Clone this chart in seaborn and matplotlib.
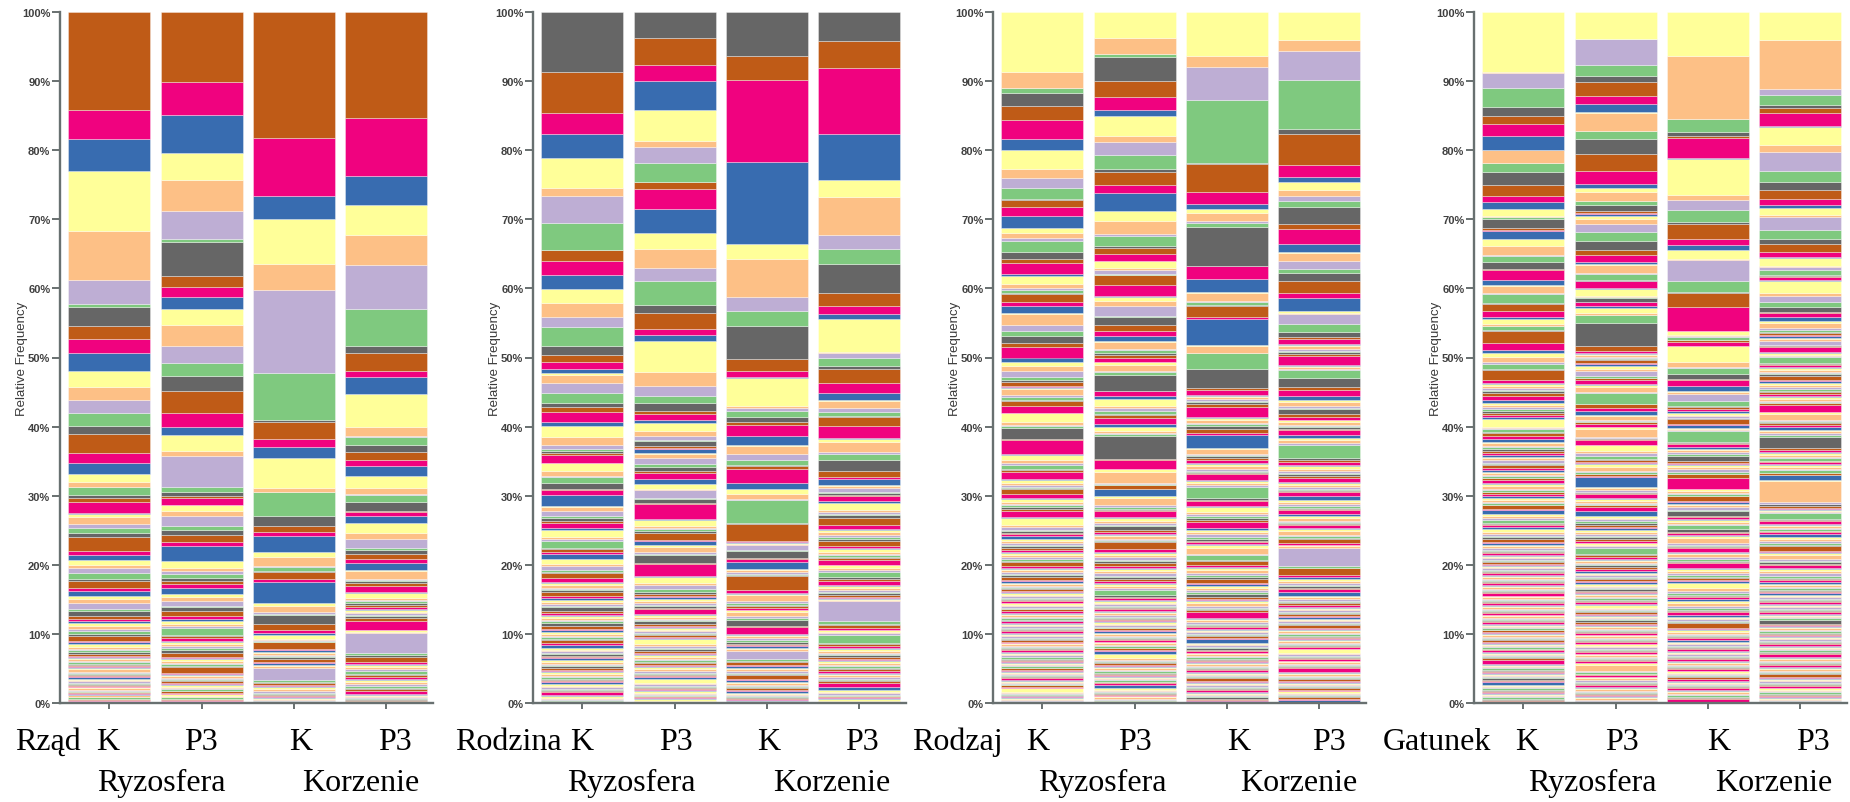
import numpy as np
import pandas as pd
import matplotlib
matplotlib.use("Agg")
import matplotlib.pyplot as plt
import seaborn as sns
from matplotlib.ticker import PercentFormatter

sns.set_theme(style="ticks")
plt.rcParams['font.family'] = ['Liberation Sans', 'DejaVu Sans']

# ---------------- labels ----------------
levels = ["Rząd", "Rodzina", "Rodzaj", "Gatunek"]
samples = ["K", "P3", "K", "P3"]
sites = ["Ryzosfera", "Korzenie"]
ytick_values = [0, 10, 20, 30, 40, 50, 60, 70, 80, 90, 100]

# ---------------- data (relative frequency, %, taxa listed from the top of each bar) ----------------
# Rząd  (rows of 8 taxa)
rzad_ryz_K = [
    14.25, 4.15, 4.6, 8.7, 7.1, 3.4, 0.55, 2.75,
    1.8, 2.1, 2.6, 2.3, 1.9, 1.8, 1.9, 1.2,
    2.7, 1.4, 1.7, 1.1, 0.8, 0.0, 1.1, 0.5,
    0.5, 1.6, 0.2, 0.4, 1.0, 0.6, 0.7, 0.6,
    2.0, 0.6, 0.7, 0.8, 0.3, 0.8, 0.8, 0.3,
    1.0, 0.5, 0.7, 0.5, 0.5, 0.9, 0.3, 0.7,
    0.4, 0.3, 0.3, 0.4, 0.5, 0.3, 0.4, 0.3,
    0.7, 0.2, 0.2, 0.5, 0.3, 0.2, 0.2, 0.3,
    0.3, 0.15, 0.2, 0.15, 0.25, 0.1, 0.3, 0.15,
    0.2, 0.1, 0.15, 0.2, 0.3, 0.15, 0.2, 0.1,
    0.15, 0.2, 0.25, 0.1, 0.2, 0.3, 0.1, 0.15,
    0.2, 0.1, 0.1, 0.15, 0.2, 0.1, 0.15, 0.1,
    0.1, 0.15, 0.1, 0.1, 0.2, 0.1, 0.15, 0.1,
    0.1, 0.1, 0.05, 0.1, 0.1, 0.05, 0.05,
]
rzad_ryz_P3 = [
    10.1, 4.8, 5.5, 3.85, 4.5, 4.1, 0.45, 4.9,
    1.65, 1.35, 1.8, 2.3, 3.0, 2.5, 1.85, 2.15,
    3.2, 2.0, 1.2, 2.3, 0.7, 4.6, 0.7, 0.5,
    0.3, 1.1, 0.0, 0.8, 0.8, 1.35, 0.55, 0.8,
    1.0, 0.55, 2.25, 0.9, 0.5, 0.5, 0.45, 0.45,
    0.5, 0.5, 0.95, 0.45, 0.5, 0.7, 0.25, 0.5,
    0.75, 0.5, 0.2, 0.5, 0.3, 0.2, 1.0, 0.2,
    0.3, 0.4, 0.2, 0.3, 0.2, 0.3, 0.4, 0.3,
    0.6, 0.2, 0.2, 0.2, 0.3, 0.2, 0.2, 0.2,
    0.8, 0.15, 0.2, 0.1, 0.3, 0.15, 0.2, 0.1,
    0.3, 0.2, 0.15, 0.2, 0.25, 0.1, 0.2, 0.1,
    0.2, 0.15, 0.1, 0.2, 0.15, 0.1, 0.15, 0.1,
    0.1, 0.1, 0.05, 0.1, 0.1, 0.05, 0.05,
]
rzad_kor_K = [
    18.25, 8.35, 3.4, 6.5, 3.8, 11.9, 6.9, 0.3,
    2.4, 1.1, 1.7, 4.35, 0.55, 0.0, 3.5, 1.45,
    0.75, 0.6, 2.3, 0.7, 1.35, 0.1, 0.65, 0.2,
    1.0, 0.45, 3.0, 0.4, 0.95, 0.2, 0.2, 1.2,
    0.9, 0.5, 0.2, 0.6, 0.2, 0.1, 0.1, 0.1,
    1.0, 0.2, 0.2, 0.2, 0.2, 0.2, 0.2, 0.3,
    0.3, 0.2, 0.3, 0.2, 0.3, 1.7, 0.2, 0.2,
    0.3, 0.15, 0.2, 0.2, 0.25, 0.3, 0.2, 0.15,
    0.15, 0.1, 0.15, 0.1, 0.2, 0.15, 0.15, 0.15,
]
rzad_kor_P3 = [
    15.4, 8.4, 4.1, 4.4, 4.3, 6.4, 5.4, 0.9,
    2.7, 0.8, 2.5, 4.7, 1.3, 0.2, 1.1, 1.1,
    1.2, 0.75, 1.45, 1.85, 0.8, 0.2, 1.0, 1.25,
    0.2, 0.6, 1.0, 1.45, 0.85, 1.3, 0.2, 0.7,
    0.6, 0.7, 0.9, 0.2, 1.1, 0.2, 0.2, 0.2,
    0.4, 0.9, 0.2, 0.7, 0.3, 0.2, 0.3, 0.2,
    0.3, 0.3, 0.2, 0.2, 0.2, 0.2, 0.2, 0.3,
    0.4, 1.4, 0.0, 0.2, 0.2, 2.9, 0.3, 0.2,
    0.8, 0.2, 0.2, 0.3, 0.3, 0.2, 0.5, 0.2,
    0.3, 0.2, 0.2, 0.3, 0.3, 0.2, 0.3, 0.2,
    0.2, 0.5, 0.1, 0.2, 0.2, 0.1, 0.15, 0.1,
    0.1, 0.1, 0.05, 0.1, 0.1,
]

# Rodzina
rodz_ryz_K = [
    8.7, 5.9, 3.1, 3.5, 4.2, 1.2, 4.0, 3.8,
    0.0, 1.7, 2.0, 2.0, 2.0, 2.1, 1.45, 2.75,
    1.25, 1.05, 0.9, 0.6, 0.4, 1.1, 1.4, 1.5,
    0.6, 0.7, 1.5, 0.55, 1.6, 1.05, 0.7, 0.3,
    0.2, 0.3, 1.1, 0.1, 1.1, 0.7, 0.2, 0.8,
    0.9, 0.2, 0.7, 1.6, 0.2, 0.5, 0.8, 0.2,
    0.5, 0.2, 0.8, 0.2, 1.1, 0.3, 0.3, 0.9,
    0.2, 0.4, 0.35, 0.75, 0.7, 0.3, 0.5, 0.3,
    0.2, 0.7, 0.6, 0.1, 0.3, 0.4, 0.2, 0.2,
    0.2, 0.6, 0.3, 0.3, 0.3, 0.3, 0.2, 0.2,
    0.6, 0.3, 0.2, 0.2, 0.3, 0.3, 0.2, 0.2,
    0.5, 0.35, 0.25, 0.2, 0.3, 0.3, 0.2, 0.2,
    0.2, 0.4, 0.3, 0.5, 0.2, 0.2, 0.2, 0.2,
    0.3, 0.2, 0.15, 0.2, 0.3, 0.25, 0.2, 0.2,
    0.2, 0.3, 0.2, 0.15, 0.25, 0.3, 0.2, 0.2,
    0.15, 0.2, 0.15, 0.2, 0.3, 0.2, 0.25, 0.15,
    0.1, 0.2, 0.5, 0.15, 0.2, 0.2, 0.15, 0.1,
    0.1, 0.1, 0.1,
]
rodz_ryz_P3 = [
    3.8, 3.9, 2.3, 4.15, 4.45, 0.9, 2.4, 2.65,
    0.0, 1.05, 2.9, 3.5, 2.3, 2.7, 2.0, 3.4,
    1.1, 2.4, 0.9, 0.8, 4.5, 2.0, 1.4, 1.1,
    1.2, 0.4, 0.8, 0.5, 1.1, 0.7, 0.7, 0.1,
    0.65, 0.35, 0.2, 0.5, 0.1, 0.7, 0.8, 0.5,
    0.5, 0.3, 0.9, 0.7, 0.7, 0.2, 1.1, 0.2,
    0.6, 0.1, 2.2, 0.1, 0.85, 0.3, 0.2, 0.2,
    0.35, 1.0, 0.2, 0.55, 0.3, 0.65, 0.3, 0.2,
    1.1, 0.2, 1.7, 0.1, 0.9, 0.3, 0.6, 0.5,
    0.2, 0.3, 0.2, 0.2, 0.4, 0.3, 0.2, 0.2,
    0.2, 0.2, 0.7, 0.1, 0.3, 0.3, 0.2, 0.2,
    0.3, 0.3, 0.2, 0.1, 0.3, 0.2, 0.2, 0.2,
    0.2, 0.2, 0.2, 0.2, 0.7, 0.3, 0.2, 0.2,
    0.3, 0.2, 0.15, 0.2, 0.3, 0.25, 0.2, 0.2,
    0.2, 0.3, 0.2, 0.15, 0.25, 0.3, 0.2, 0.2,
    0.15, 0.2, 0.15, 0.2, 0.6, 0.2, 0.25, 0.15,
    0.1, 0.2, 0.15, 0.15, 0.2, 0.2, 0.15, 0.1,
    0.1, 0.1, 0.1, 0.1, 0.4, 0.1, 0.15,
]
rodz_kor_K = [
    6.4, 3.5, 11.75, 11.95, 2.15, 5.55, 1.95, 2.25,
    4.75, 1.65, 0.85, 0.25, 3.95, 0.3, 0.55, 0.75,
    0.85, 0.3, 1.6, 1.35, 0.1, 1.25, 0.9, 0.7,
    0.1, 0.4, 2.1, 0.9, 0.7, 0.7, 0.1, 3.35,
    0.1, 2.55, 0.1, 0.1, 0.2, 0.2, 0.7, 0.1,
    1.0, 0.1, 0.5, 1.0, 0.2, 0.3, 0.3, 0.1,
    0.1, 2.0, 0.5, 0.1, 0.2, 0.8, 0.3, 0.3,
    0.2, 0.3, 0.2, 0.1, 0.3, 0.5, 0.3, 0.3,
    0.9, 0.1, 1.0, 0.1, 0.2, 0.3, 0.3, 0.3,
    0.2, 0.2, 0.2, 0.2, 0.2, 0.3, 1.2, 0.2,
    0.2, 0.4, 0.15, 0.3, 0.2, 0.25, 0.2, 0.2,
    0.2, 0.5, 0.2, 0.3, 0.15, 0.2, 0.2, 0.15,
    0.15, 0.2, 0.15, 0.3, 0.15, 0.2, 0.2, 0.15,
    0.1, 0.15, 0.1, 0.2, 0.1, 0.15,
]
rodz_kor_P3 = [
    4.25, 3.85, 9.6, 6.55, 2.55, 5.5, 2.0, 2.1,
    4.3, 1.8, 1.2, 0.7, 4.8, 0.1, 0.8, 1.1,
    0.5, 2.0, 1.4, 1.0, 0.2, 1.0, 0.6, 0.6,
    0.1, 1.35, 1.75, 0.1, 0.4, 1.5, 0.2, 1.0,
    1.5, 0.95, 0.2, 0.9, 0.2, 0.3, 0.55, 0.1,
    0.3, 0.2, 0.6, 0.4, 1.0, 0.3, 0.2, 0.2,
    0.4, 1.0, 0.6, 0.2, 0.3, 0.4, 0.3, 0.3,
    0.3, 0.7, 0.2, 0.2, 0.4, 0.3, 0.2, 0.2,
    0.2, 0.3, 0.7, 0.1, 0.4, 0.3, 0.3, 0.7,
    0.2, 0.3, 0.6, 0.1, 0.3, 0.3, 0.3, 0.2,
    0.3, 0.2, 0.2, 0.1, 0.2, 0.2, 2.9, 0.3,
    0.2, 0.5, 0.2, 0.1, 0.2, 0.2, 0.2, 1.2,
    0.2, 0.3, 0.2, 0.2, 0.3, 0.2, 0.2, 0.2,
    0.3, 0.2, 0.15, 0.2, 0.3, 0.25, 0.2, 0.2,
    0.2, 0.3, 0.2, 0.15, 0.25, 0.3, 0.2, 0.2,
    0.15, 0.2, 0.6, 0.5, 0.2, 0.2, 0.25, 0.15,
    0.1, 0.15, 0.1, 0.15, 0.2, 0.15, 0.1, 0.1,
]

# Rodzaj
rodzaj_ryz_K = [
    8.7, 2.3, 0.0, 0.7, 1.9, 2.1, 2.75, 1.5,
    2.75, 1.3, 1.4, 1.6, 0.2, 1.05, 1.25, 1.7,
    0.8, 0.75, 0.45, 1.6, 1.0, 0.5, 1.6, 0.25,
    1.25, 0.6, 0.2, 0.5, 0.1, 1.2, 0.6, 0.9,
    0.2, 1.6, 0.8, 0.8, 1.0, 0.65, 1.45, 0.7,
    0.6, 0.6, 0.95, 0.35, 0.3, 0.6, 0.2, 0.1,
    0.2, 0.8, 0.3, 0.4, 0.2, 0.65, 1.05, 0.1,
    1.3, 0.3, 0.2, 0.35, 1.55, 0.2, 2.0, 0.1,
    0.8, 0.4, 0.3, 0.6, 0.1, 0.2, 1.1, 0.2,
    0.4, 0.3, 0.2, 0.2, 0.2, 0.7, 0.6, 0.1,
    0.4, 0.3, 0.2, 0.3, 0.2, 0.3, 0.9, 0.1,
    1.1, 0.3, 0.3, 0.2, 0.3, 0.2, 0.3, 0.4,
    0.3, 0.3, 0.2, 0.2, 0.2, 0.3, 0.3, 0.2,
    0.3, 0.3, 0.3, 0.2, 0.2, 0.6, 0.2, 0.2,
    0.2, 0.2, 0.3, 0.2, 0.2, 0.5, 0.2, 0.2,
    0.2, 0.25, 0.15, 0.2, 0.1, 0.3, 0.2, 0.15,
    0.15, 0.2, 0.3, 0.1, 0.2, 0.15, 0.25, 0.1,
    0.25, 0.15, 0.2, 0.15, 0.1, 0.2, 0.3, 0.15,
    0.2, 0.3, 0.15, 0.2, 0.15, 0.1, 0.2, 0.1,
    0.15, 0.2, 0.25, 0.15, 0.2, 0.15, 0.2, 0.15,
    0.2, 0.15, 0.3, 0.2, 0.1, 0.2, 0.15, 0.1,
    0.15, 0.2, 0.2, 0.15, 0.15, 0.2, 0.25, 0.1,
    0.1, 0.25, 0.2, 0.3, 0.15, 0.15, 0.2, 0.1,
    0.2, 0.15, 0.15, 0.2, 0.1, 0.2, 0.15, 0.1,
    0.15, 0.2, 0.2, 0.15, 0.15, 0.15, 0.2, 0.1,
    0.2, 0.15, 0.15, 0.1, 0.1, 0.2, 0.15, 0.1,
    0.5, 0.15, 0.15, 0.1, 0.15, 0.1, 0.15, 0.1,
    0.1, 0.15, 0.1, 0.1, 0.1, 0.15,
]
rodzaj_ryz_P3 = [
    3.8, 2.25, 0.0, 0.45, 3.55, 2.25, 1.85, 0.95,
    2.9, 0.85, 1.85, 2.0, 0.4, 1.9, 1.2, 2.55,
    1.45, 1.9, 0.35, 1.35, 0.4, 0.8, 1.0, 0.1,
    0.9, 0.3, 0.6, 0.1, 0.1, 1.4, 1.6, 0.1,
    0.6, 0.7, 1.5, 0.1, 1.2, 0.8, 0.8, 0.7,
    0.2, 0.9, 0.2, 0.5, 0.2, 0.4, 0.6, 0.1,
    0.4, 0.8, 0.2, 0.5, 2.2, 0.1, 0.6, 0.5,
    1.0, 0.3, 0.5, 0.4, 0.1, 0.5, 0.8, 0.5,
    0.5, 0.3, 0.2, 0.2, 3.4, 0.2, 1.2, 0.1,
    0.3, 1.6, 0.2, 0.1, 0.1, 0.5, 0.1, 1.0,
    0.2, 1.0, 0.3, 0.3, 0.1, 0.2, 0.9, 0.1,
    0.4, 0.3, 0.3, 0.2, 0.5, 0.3, 0.3, 0.2,
    0.2, 0.3, 0.2, 0.2, 0.1, 1.0, 0.4, 0.2,
    0.3, 0.3, 0.4, 0.2, 0.3, 0.4, 0.2, 0.2,
    0.3, 0.3, 0.4, 0.2, 0.2, 0.3, 0.3, 0.2,
    0.2, 0.3, 0.3, 0.8, 0.2, 0.2, 0.3, 0.2,
    0.2, 0.15, 0.25, 0.2, 0.1, 0.2, 0.3, 0.15,
    0.15, 0.2, 0.3, 0.15, 0.2, 0.15, 0.2, 0.1,
    0.25, 0.2, 0.2, 0.15, 0.1, 0.2, 0.25, 0.15,
    0.2, 0.25, 0.15, 0.2, 0.15, 0.15, 0.2, 0.1,
    0.15, 0.2, 0.25, 0.2, 0.1, 0.2, 0.15, 0.5,
    0.6, 0.2, 0.2, 0.15, 0.15, 0.2, 0.2, 0.1,
    0.2, 0.25, 0.2, 0.2, 0.15, 0.15, 0.2, 0.1,
    0.15, 0.2, 0.15, 0.2, 0.1, 0.15, 0.2, 0.5,
    0.2, 0.2, 0.15, 0.15, 0.1, 0.15, 0.15, 0.1,
    0.1, 0.2, 0.15, 0.15, 0.1, 0.15, 0.1,
]
rodzaj_kor_K = [
    6.4, 1.6, 4.8, 9.1, 0.1, 4.1, 1.7, 0.7,
    0.6, 1.2, 0.2, 0.65, 5.55, 0.1, 1.85, 1.85,
    0.1, 1.2, 0.2, 0.4, 0.2, 1.6, 0.2, 3.8,
    0.2, 0.9, 0.1, 2.25, 2.8, 0.2, 0.75, 0.1,
    0.2, 0.3, 0.3, 0.2, 0.3, 0.3, 1.55, 0.1,
    0.3, 0.4, 0.2, 0.2, 0.5, 0.6, 0.3, 1.85,
    0.2, 0.6, 0.2, 0.2, 0.3, 0.3, 0.4, 0.1,
    0.3, 0.5, 0.2, 0.2, 0.1, 0.2, 0.9, 0.1,
    0.3, 0.3, 0.2, 1.7, 0.2, 0.2, 0.7, 0.1,
    0.8, 0.3, 0.3, 0.2, 0.3, 0.3, 0.9, 0.2,
    0.3, 0.4, 0.4, 0.2, 0.3, 0.2, 0.3, 0.2,
    0.3, 0.9, 0.2, 0.7, 0.2, 0.6, 0.2, 0.2,
    0.3, 0.4, 0.3, 0.3, 0.2, 0.6, 0.2, 0.2,
    0.3, 0.3, 0.4, 0.2, 0.4, 0.3, 0.2, 0.2,
    0.3, 0.3, 0.3, 0.2, 0.2, 0.2, 0.9, 0.1,
    0.2, 0.25, 0.3, 0.15, 0.2, 0.15, 0.2, 0.15,
    0.15, 0.2, 0.25, 0.2, 0.15, 0.2, 0.15, 0.6,
    0.2, 0.15, 0.2, 0.15, 0.3, 0.2, 0.2, 0.1,
    0.15, 0.25, 0.2, 0.2, 0.15, 0.15, 0.2, 0.1,
    0.2, 0.2, 0.15, 0.2, 0.1, 0.2, 0.25, 0.1,
    0.15, 0.2, 0.2, 0.15, 0.15, 0.4, 0.15, 0.1,
    0.2, 0.15, 0.2, 0.2, 0.15, 0.15, 0.2, 0.15,
    0.15, 0.2, 0.2, 0.15, 0.2, 0.15, 0.2, 0.25,
]
rodzaj_kor_P3 = [
    4.1, 1.55, 4.25, 7.0, 0.75, 4.55, 1.7, 0.65,
    1.15, 1.0, 0.6, 0.95, 2.45, 0.7, 2.2, 1.2,
    0.1, 1.1, 1.2, 0.6, 1.2, 1.7, 0.75, 1.85,
    0.2, 0.2, 1.5, 1.1, 0.8, 0.2, 0.8, 0.1,
    0.2, 0.3, 0.3, 0.2, 0.3, 0.3, 1.3, 0.1,
    0.2, 0.2, 0.2, 1.2, 1.2, 0.5, 0.9, 0.6,
    0.3, 0.5, 0.3, 0.2, 0.7, 0.4, 0.4, 0.1,
    0.3, 0.3, 0.2, 0.2, 0.2, 0.2, 0.7, 0.5,
    0.3, 0.4, 0.2, 2.0, 0.3, 0.2, 0.5, 0.1,
    0.4, 0.3, 0.3, 0.2, 0.2, 0.4, 0.5, 0.1,
    0.3, 0.4, 0.2, 0.2, 0.1, 0.2, 0.6, 0.5,
    0.3, 0.3, 0.3, 0.3, 0.1, 0.2, 0.6, 0.2,
    0.3, 0.4, 0.2, 0.2, 0.1, 0.2, 0.4, 0.1,
    0.3, 0.6, 0.2, 0.2, 0.1, 0.7, 0.2, 0.1,
    0.1, 0.2, 2.7, 0.2, 0.1, 1.0, 0.3, 0.2,
    0.3, 0.3, 0.3, 0.2, 0.2, 0.2, 0.5, 0.5,
    0.2, 0.25, 0.3, 0.15, 0.2, 0.15, 0.3, 0.15,
    0.15, 0.2, 0.25, 0.2, 0.15, 0.2, 0.2, 0.3,
    0.2, 0.15, 0.2, 0.15, 0.2, 0.4, 0.2, 0.1,
    0.15, 0.25, 0.2, 0.2, 0.15, 0.15, 0.2, 0.1,
    0.2, 0.2, 0.15, 0.25, 0.1, 0.2, 0.2, 0.1,
    0.5, 0.2, 0.2, 0.15, 0.15, 0.2, 0.2, 0.1,
    0.15, 0.2, 0.2, 0.2, 0.1, 0.15, 0.6, 0.1,
    0.2, 0.2, 0.15, 0.2, 0.15, 0.2, 0.2, 0.1,
    0.15, 0.2, 0.2, 0.15, 0.1, 0.2, 0.15, 0.1,
    0.2, 0.2, 0.15, 0.2, 0.15, 0.2, 0.2, 0.2,
    0.1, 0.1,
]

# Gatunek
gat_ryz_K = [
    8.7, 0.15, 2.15, 2.75, 1.25, 1.2, 1.8, 1.9,
    0.1, 1.8, 0.1, 1.3, 1.9, 1.6, 0.75, 1.05,
    1.0, 0.1, 0.1, 0.2, 1.4, 0.3, 0.1, 1.15,
    0.95, 1.4, 0.1, 0.9, 1.0, 0.2, 1.35, 0.75,
    0.2, 1.0, 0.1, 1.3, 0.1, 1.0, 1.0, 0.3,
    0.7, 0.2, 0.1, 0.5, 0.2, 1.7, 1.0, 0.5,
    0.5, 0.8, 0.2, 0.8, 0.1, 1.4, 0.5, 0.2,
    0.2, 0.3, 0.3, 0.2, 0.3, 0.4, 0.5, 0.5,
    0.3, 0.3, 0.3, 0.3, 0.2, 0.3, 0.3, 0.3,
    1.1, 0.2, 0.2, 0.4, 0.1, 0.5, 0.4, 0.4,
    0.2, 0.4, 0.2, 0.3, 0.2, 0.3, 0.3, 0.3,
    0.2, 0.3, 0.3, 0.2, 0.2, 0.4, 0.3, 0.2,
    0.2, 0.3, 0.2, 0.2, 0.1, 0.2, 0.5, 0.1,
    0.3, 0.4, 0.2, 0.2, 0.1, 0.2, 0.4, 0.2,
    0.3, 0.3, 0.2, 0.2, 0.1, 0.5, 0.2, 0.5,
    0.3, 0.3, 0.3, 0.4, 0.2, 0.2, 0.3, 0.2,
    0.5, 0.3, 0.2, 0.2, 0.2, 0.5, 0.2, 0.2,
    0.2, 0.25, 0.3, 0.15, 0.2, 0.15, 0.2, 0.15,
    0.15, 0.2, 0.25, 0.2, 0.15, 0.2, 0.2, 0.1,
    0.2, 0.15, 0.2, 0.15, 0.2, 0.15, 0.3, 0.1,
    0.15, 0.25, 0.2, 0.2, 0.15, 0.15, 0.25, 0.1,
    0.2, 0.2, 0.15, 0.25, 0.1, 0.2, 0.3, 0.1,
    0.15, 0.2, 0.2, 0.15, 0.15, 0.2, 0.2, 0.1,
    0.2, 0.25, 0.2, 0.2, 0.1, 0.15, 0.2, 0.1,
    0.15, 0.2, 0.2, 0.15, 0.15, 0.15, 0.25, 0.1,
    0.2, 0.15, 0.2, 0.2, 0.1, 0.2, 0.2, 0.1,
    0.15, 0.25, 0.25, 0.15, 0.15, 0.15, 0.2, 0.1,
    0.2, 0.2, 0.15, 0.2, 0.1, 0.15, 0.2, 0.1,
    0.15, 0.2, 0.2, 0.15, 0.15, 0.2, 0.6, 0.1,
    0.2, 0.2, 0.15, 0.2, 0.1, 0.15, 0.2, 0.1,
    0.15, 0.2, 0.2, 0.15, 0.15, 0.15, 0.2, 0.4,
    0.2, 0.15, 0.2, 0.2, 0.1, 0.2, 0.15, 0.1,
    0.15, 0.2, 0.2, 0.15, 0.15, 0.2, 0.15, 0.15,
]
gat_ryz_P3 = [
    3.85, 0.1, 3.7, 1.65, 0.85, 1.95, 1.2, 1.1,
    0.2, 2.55, 0.1, 1.1, 2.2, 2.4, 1.95, 0.55,
    0.65, 1.2, 0.1, 0.5, 0.85, 0.35, 0.1, 0.3,
    0.5, 0.7, 1.1, 1.3, 1.3, 0.8, 1.0, 0.2,
    0.2, 1.2, 0.1, 0.9, 0.1, 0.1, 0.9, 0.2,
    1.0, 0.1, 0.1, 0.1, 0.5, 0.1, 0.6, 0.3,
    0.6, 0.3, 0.1, 1.1, 3.3, 0.7, 0.4, 0.1,
    0.2, 0.3, 0.1, 0.1, 0.1, 0.5, 0.2, 0.2,
    0.4, 0.4, 0.7, 0.2, 0.1, 0.2, 0.7, 0.1,
    0.2, 0.8, 0.2, 1.5, 0.1, 0.5, 0.4, 0.6,
    0.2, 0.5, 0.2, 0.1, 0.1, 0.2, 0.4, 0.1,
    0.2, 1.2, 0.1, 0.1, 0.1, 0.2, 0.6, 0.1,
    0.8, 0.3, 0.5, 0.4, 0.1, 0.3, 0.2, 0.1,
    0.4, 0.6, 0.2, 0.2, 0.1, 0.2, 0.2, 1.4,
    0.2, 0.3, 0.2, 0.1, 0.1, 0.2, 0.6, 0.1,
    0.3, 0.2, 0.2, 0.1, 0.1, 0.2, 0.6, 0.7,
    0.3, 0.2, 0.3, 0.3, 0.2, 0.3, 0.2, 0.2,
    0.3, 0.4, 0.2, 0.2, 0.3, 0.3, 0.2, 0.1,
    0.2, 0.2, 0.2, 0.9, 0.2, 0.3, 0.2, 0.2,
    0.2, 0.25, 0.2, 0.15, 0.2, 0.35, 0.2, 0.3,
    0.15, 0.2, 0.25, 0.2, 0.15, 0.2, 0.2, 0.3,
    0.2, 0.2, 0.2, 0.15, 0.2, 0.15, 0.25, 0.1,
    0.15, 0.25, 0.2, 0.2, 0.15, 0.2, 0.3, 0.1,
    0.4, 0.2, 0.15, 0.2, 0.1, 0.2, 0.2, 0.1,
    0.15, 0.2, 0.2, 0.15, 0.3, 0.15, 0.2, 0.1,
    0.2, 0.25, 0.15, 0.2, 0.1, 0.2, 0.2, 0.1,
    0.15, 0.2, 0.2, 0.15, 0.15, 0.15, 0.2, 0.1,
    0.2, 0.25, 0.2, 0.2, 0.1, 0.2, 0.2, 0.1,
    0.15, 0.2, 0.15, 0.15, 0.15, 0.15, 0.25, 0.1,
    0.2, 0.9, 0.2, 0.2, 0.1, 0.15, 0.2, 0.1,
    0.15, 0.2, 0.25, 0.15, 0.15, 0.2, 0.3, 0.1,
    0.2, 0.2, 0.2, 0.2, 0.1, 0.15, 0.2, 0.1,
    0.15, 0.2, 0.15, 0.1, 0.1, 0.15,
]
gat_kor_K = [
    6.4, 9.05, 0.0, 1.95, 0.5, 0.35, 2.9, 0.1,
    5.3, 0.65, 1.4, 1.75, 0.35, 2.15, 0.85, 0.7,
    1.35, 0.1, 3.05, 1.6, 0.1, 2.15, 3.35, 0.1,
    0.6, 0.1, 0.1, 0.4, 0.1, 0.2, 0.6, 0.1,
    2.3, 0.7, 0.1, 0.9, 0.7, 0.2, 0.8, 0.7,
    0.2, 0.3, 1.0, 0.7, 0.1, 0.3, 0.3, 0.4,
    0.2, 0.2, 0.2, 0.1, 0.1, 0.7, 0.1, 0.5,
    0.2, 0.1, 0.1, 1.6, 0.2, 0.1, 0.5, 0.2,
    0.2, 0.3, 0.3, 0.3, 0.7, 0.2, 0.2, 0.2,
    0.3, 0.3, 0.3, 0.3, 0.1, 0.6, 1.5, 0.1,
    0.2, 0.3, 0.2, 0.2, 0.1, 0.6, 0.2, 0.3,
    0.2, 0.3, 0.3, 0.2, 0.7, 0.2, 0.2, 0.2,
    0.3, 0.3, 0.2, 0.5, 0.4, 0.2, 0.3, 0.2,
    0.2, 0.8, 0.2, 0.2, 0.1, 0.2, 0.5, 0.2,
    0.2, 0.3, 0.3, 0.3, 0.2, 0.2, 0.6, 0.2,
    0.3, 0.3, 0.3, 0.2, 0.2, 0.3, 0.2, 0.2,
    0.8, 0.4, 0.3, 0.2, 0.2, 0.2, 0.3, 0.3,
    0.2, 0.5, 0.3, 0.2, 0.2, 0.2, 0.3, 0.3,
    0.2, 0.2, 0.2, 0.2, 0.1, 0.7, 0.2, 0.2,
    0.2, 0.25, 0.2, 0.15, 0.2, 0.15, 0.3, 0.15,
    0.15, 0.2, 0.25, 0.2, 0.15, 0.2, 0.2, 0.1,
    0.2, 0.2, 0.2, 0.15, 0.15, 0.2, 0.3, 0.1,
    0.15, 0.25, 0.2, 0.2, 0.1, 0.15, 0.2, 0.1,
    0.2, 0.2, 0.15, 0.2, 0.15, 0.2, 0.3, 0.1,
    0.15, 0.2, 0.2, 0.15, 0.1, 0.2, 0.25, 0.1,
    0.2, 0.25, 0.2, 0.2, 0.15, 0.2, 0.35, 0.2,
]
gat_kor_P3 = [
    4.1, 7.0, 0.9, 1.45, 0.45, 0.75, 1.85, 0.1,
    2.7, 1.0, 2.65, 1.65, 1.1, 1.35, 0.85, 0.5,
    1.0, 0.2, 1.9, 1.4, 0.7, 1.1, 0.8, 0.1,
    1.1, 0.2, 0.5, 0.7, 0.1, 0.2, 0.4, 0.1,
    1.75, 0.5, 0.8, 0.7, 0.7, 0.2, 0.6, 0.5,
    0.4, 0.7, 0.2, 0.3, 0.2, 0.3, 0.2, 0.2,
    0.2, 0.3, 0.5, 0.1, 0.1, 0.1, 0.8, 0.1,
    0.3, 0.2, 0.1, 0.9, 0.1, 0.1, 0.3, 0.1,
    0.3, 0.3, 0.2, 0.2, 0.2, 0.6, 0.2, 0.2,
    0.3, 0.3, 0.3, 0.3, 0.2, 0.3, 0.2, 0.2,
    0.2, 0.3, 0.2, 0.1, 0.1, 0.2, 1.0, 0.1,
    0.2, 0.9, 0.2, 0.1, 0.1, 0.3, 0.3, 0.4,
    0.2, 0.3, 0.3, 0.2, 1.7, 0.3, 0.2, 0.2,
    0.2, 0.3, 0.2, 0.4, 0.1, 0.1, 0.3, 0.1,
    0.3, 0.3, 0.2, 0.3, 0.1, 0.2, 0.1, 0.7,
    0.1, 3.1, 0.2, 0.1, 0.2, 0.4, 0.1, 0.1,
    0.1, 0.2, 0.1, 0.9, 0.1, 0.2, 0.5, 0.1,
    0.2, 0.2, 0.2, 0.2, 0.1, 0.1, 0.3, 0.4,
    0.3, 0.3, 0.3, 0.3, 0.2, 0.6, 0.2, 0.2,
    0.3, 0.5, 0.3, 0.2, 0.2, 0.2, 0.4, 0.2,
    0.2, 0.3, 0.4, 0.3, 0.2, 0.2, 0.3, 0.2,
    0.2, 0.25, 0.2, 0.2, 0.15, 0.2, 0.2, 0.15,
    0.15, 0.2, 0.25, 0.2, 0.2, 0.15, 0.2, 0.1,
    0.2, 0.2, 0.2, 0.15, 0.2, 0.2, 0.2, 0.1,
    0.15, 0.2, 0.2, 0.2, 0.6, 0.15, 0.2, 0.1,
    0.2, 0.25, 0.2, 0.2, 0.1, 0.2, 0.2, 0.1,
    0.15, 0.2, 0.2, 0.2, 0.15, 0.15, 0.25, 0.1,
    0.2, 0.2, 0.15, 0.2, 0.1, 0.2, 0.5, 0.1,
    0.15, 0.2, 0.2, 0.15, 0.1, 0.15, 0.4, 0.1,
    0.2, 0.2, 0.2, 0.15, 0.1, 0.4, 0.2, 0.1,
    0.15, 0.2, 0.2, 0.25, 0.15, 0.15, 0.2, 0.1,
    0.2, 0.2, 0.15, 0.2, 0.15, 0.2, 0.2, 0.1,
    0.15, 0.15, 0.15, 0.1, 0.15,
]

panel_data = [
    [rzad_ryz_K, rzad_ryz_P3, rzad_kor_K, rzad_kor_P3],
    [rodz_ryz_K, rodz_ryz_P3, rodz_kor_K, rodz_kor_P3],
    [rodzaj_ryz_K, rodzaj_ryz_P3, rodzaj_kor_K, rodzaj_kor_P3],
    [gat_ryz_K, gat_ryz_P3, gat_kor_K, gat_kor_P3],
]
# palette position (Accent) of the top-most taxon in each panel
palette_start = [6, 7, 3, 3]

# ---------------- layout (pixels of the 1850x803 canvas) ----------------
W, H = 1850, 803
axes_left_px = [60, 533, 993, 1474]
axes_w_px = 373
axes_top_px, axes_bottom_px = 13, 704

name_x_px = [15, 455, 912, 1383]
sample_x_px = [[108, 201, 301, 395], [582, 676, 769, 862],
               [1038, 1135, 1239, 1329], [1527, 1622, 1719, 1813]]
site_x_px = [[97, 302], [567, 773], [1038, 1240], [1528, 1715]]
row1_base, row2_base = 750, 791

accent = sns.color_palette("Accent", 8)
axis_col = "#687070"

fig = plt.figure(figsize=(W / 100, H / 100), dpi=100)
fig.patch.set_facecolor("white")

for p, bars in enumerate(panel_data):
    n = max(len(b) for b in bars)
    cats = [f"t{k:03d}" for k in range(n)]
    rows = []
    for j, b in enumerate(bars):
        vals = np.zeros(n)
        vals[:len(b)] = b
        vals = vals / vals.sum() * 100.0
        for k in range(n):
            rows.append((j, cats[k], vals[k]))
    df = pd.DataFrame(rows, columns=["bar", "taxon", "freq"])
    pal = {c: accent[(palette_start[p] - k) % 8] for k, c in enumerate(cats)}

    ax = fig.add_axes([axes_left_px[p] / W, 1 - axes_bottom_px / H,
                       axes_w_px / W, (axes_bottom_px - axes_top_px) / H])
    sns.histplot(data=df, x="bar", weights="freq", hue="taxon", hue_order=cats,
                 palette=pal, multiple="stack", discrete=True, shrink=0.89,
                 alpha=1, edgecolor=(1, 1, 1, 0.45), linewidth=0.55,
                 legend=False, ax=ax)

    ax.set_xlim(-0.535, 3.51)
    ax.set_ylim(0, 100)
    ax.set_xticks([0, 1, 2, 3])
    ax.set_xticklabels([])
    ax.set_yticks(ytick_values)
    ax.yaxis.set_major_formatter(PercentFormatter(100, decimals=0))
    sns.despine(ax=ax)
    for s in ("left", "bottom"):
        ax.spines[s].set_color(axis_col)
        ax.spines[s].set_linewidth(1.7)
    ax.tick_params(axis="y", length=6, width=1.4, color=axis_col,
                   labelsize=8, labelcolor="#404040", pad=1)
    for lab in ax.get_yticklabels():
        lab.set_fontweight("bold")
    ax.tick_params(axis="x", length=4.5, width=1.4, color=axis_col)
    ax.set_xlabel("")
    ax.set_ylabel("Relative Frequency", fontsize=9.5, color="#3a3a3a")
    ax.yaxis.set_label_coords(-32 / axes_w_px, 0.5)
    ax.set_facecolor("white")
    ax.grid(False)

    serif = dict(family=["Liberation Serif", "DejaVu Serif"], fontsize=23, color="black")
    fig.text(name_x_px[p] / W, 1 - row1_base / H, levels[p], ha="left", va="baseline", **serif)
    for j in range(4):
        fig.text(sample_x_px[p][j] / W, 1 - row1_base / H, samples[j],
                 ha="center", va="baseline", **serif)
    for s in range(2):
        fig.text(site_x_px[p][s] / W, 1 - row2_base / H, sites[s],
                 ha="left", va="baseline", **serif)

fig.savefig("out.png", dpi=100, facecolor="white")
